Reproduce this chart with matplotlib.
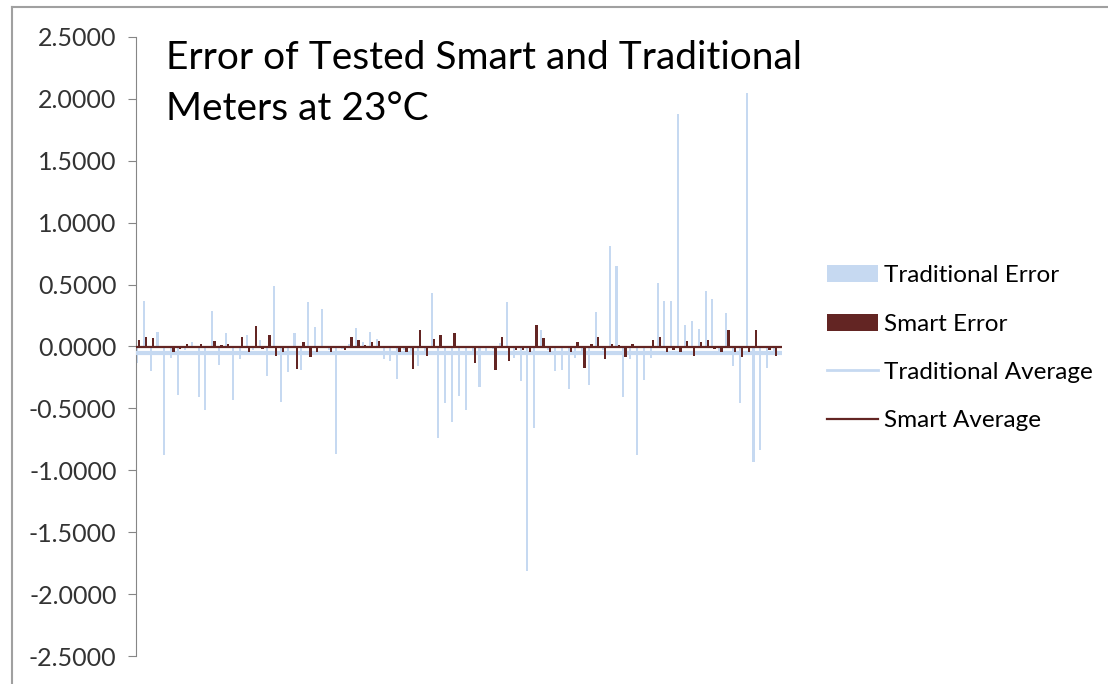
import numpy as np
import matplotlib.pyplot as plt
from matplotlib.lines import Line2D

plt.rcParams['font.family'] = ['Lato', 'DejaVu Sans']

# error per tested meter (94 meters)
traditional_error = [
    -0.13, 0.37, -0.20, 0.12, -0.88, -0.09, -0.39, -0.03, 0.04, -0.41,
    -0.51, 0.29, -0.15, 0.11, -0.43, -0.10, 0.09, -0.03, 0.05, -0.24,
    0.49, -0.45, -0.21, 0.11, -0.19, 0.36, 0.16, 0.30, -0.03, -0.87,
    -0.02, 0.02, 0.15, 0.04, 0.12, 0.06, -0.10, -0.12, -0.26, -0.03,
    -0.04, -0.16, -0.05, 0.43, -0.74, -0.46, -0.61, -0.40, -0.51, -0.04,
    -0.33, -0.05, -0.02, 0.03, 0.36, -0.09, -0.28, -1.81, -0.66, 0.13,
    -0.03, -0.20, -0.19, -0.34, -0.09, -0.04, -0.31, 0.28, -0.03, 0.81,
    0.65, -0.41, -0.10, -0.88, -0.27, -0.09, 0.51, 0.37, 0.37, 1.88,
    0.17, 0.21, 0.14, 0.45, 0.38, -0.04, 0.27, -0.16, -0.46, 2.05,
    -0.93, -0.84, -0.17, -0.05,
]
smart_error = [
    0.050, 0.078, 0.067, 0.000, -0.013, -0.045, -0.024, 0.024, 0.000, 0.024,
    -0.016, 0.046, 0.016, 0.024, 0.000, 0.078, -0.045, 0.164, -0.024, 0.089,
    -0.078, -0.045, 0.000, -0.180, 0.038, -0.086, -0.046, 0.005, -0.046, -0.013,
    -0.030, 0.078, 0.056, 0.010, 0.035, 0.046, 0.000, 0.000, -0.046, -0.046,
    -0.180, 0.130, -0.078, 0.062, 0.089, 0.000, 0.110, 0.000, 0.000, -0.130,
    -0.010, 0.000, -0.190, 0.078, -0.120, -0.030, -0.030, -0.046, 0.172, 0.067,
    -0.046, 0.000, -0.010, -0.046, 0.035, -0.170, 0.024, 0.078, -0.097, 0.024,
    0.010, -0.086, 0.024, 0.000, 0.000, 0.056, 0.078, -0.046, -0.030, -0.046,
    0.046, -0.078, 0.035, 0.056, -0.024, -0.046, 0.130, -0.046, -0.086, -0.046,
    0.130, 0.000, -0.030, -0.078,
]
traditional_average = -0.055
smart_average = -0.005
y_ticks = [-2.5, -2.0, -1.5, -1.0, -0.5, 0.0, 0.5, 1.0, 1.5, 2.0, 2.5]

light_blue = '#c6d9f1'
maroon = '#632523'

fig = plt.figure(figsize=(11.08, 6.84), dpi=100)
ax = fig.add_axes([136 / 1108, 1 - 656 / 684, 646 / 1108, 619 / 684])

x = np.arange(len(traditional_error))
b1 = ax.bar(x - 0.16, traditional_error, width=0.3, color=light_blue, zorder=2,
            label='Traditional Error')
b2 = ax.bar(x + 0.17, smart_error, width=0.34, color=maroon, zorder=4,
            label='Smart Error')
l1 = ax.axhline(traditional_average, color=light_blue, lw=3, zorder=3,
                label='Traditional Average')
l2 = ax.axhline(smart_average, color=maroon, lw=1.6, zorder=5,
                label='Smart Average')

ax.set_xlim(-0.3, 94.0)
ax.set_ylim(-2.5, 2.5)
ax.set_yticks(y_ticks)
ax.set_yticklabels([f'{v:.4f}' for v in y_ticks])
ax.tick_params(axis='y', direction='out', length=6, width=0.8, color='#868686',
               labelsize=18, labelcolor='#333333', pad=8)
ax.set_xticks([])
for side in ['top', 'right', 'bottom']:
    ax.spines[side].set_visible(False)
ax.spines['left'].set_color('#868686')
ax.spines['left'].set_linewidth(0.8)

fig.text(166 / 1108, 1 - 40 / 684,
         'Error of Tested Smart and Traditional\nMeters at 23°C',
         fontsize=28, va='top', ha='left', linespacing=1.5, color='black')

leg = ax.legend(handles=[b1, b2, l1, l2],
                loc='center left', bbox_to_anchor=(827 / 1108, 0.491),
                bbox_transform=fig.transFigure, frameon=False, fontsize=17.5,
                handlelength=2.1, handletextpad=0.25, labelspacing=1.12,
                borderpad=0, borderaxespad=0)
leg.get_lines()[0].set_linewidth(2)

# outer chart border (only top and left edges visible)
fig.add_artist(Line2D([12 / 1108, 1], [1 - 7 / 684, 1 - 7 / 684],
                      transform=fig.transFigure, color='#a0a0a0', lw=1.5))
fig.add_artist(Line2D([12 / 1108, 12 / 1108], [0, 1 - 7 / 684],
                      transform=fig.transFigure, color='#a0a0a0', lw=1.5))

fig.savefig('out.png', dpi=100)
